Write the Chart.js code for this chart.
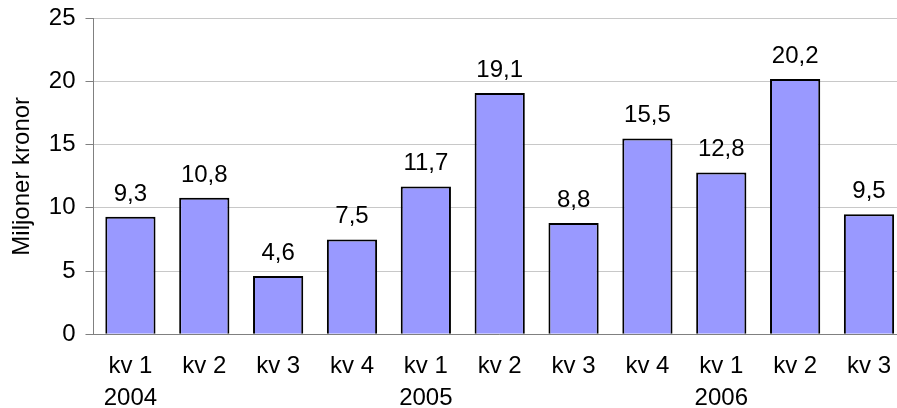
<!DOCTYPE html>
<html>
<head>
<meta charset="utf-8">
<script src="https://cdn.jsdelivr.net/npm/chart.js@4/dist/chart.umd.min.js"></script>
<style>
  html, body { margin: 0; padding: 0; background: #fff; overflow: hidden; }
  #wrap { width: 907px; height: 408px; overflow: hidden; }
  #kvartalChart { display: block; margin-top: -6px; }
</style>
</head>
<body>
<div id="wrap"><canvas id="kvartalChart" width="907" height="414"></canvas></div>
<script>
// Data per kvartal
const kvartal = ['kv 1', 'kv 2', 'kv 3', 'kv 4', 'kv 1', 'kv 2', 'kv 3', 'kv 4', 'kv 1', 'kv 2', 'kv 3'];
const ar = ['2004', '', '', '', '2005', '', '', '', '2006', '', ''];
const belopp = [9.3, 10.8, 4.6, 7.5, 11.7, 19.1, 8.8, 15.5, 12.8, 20.2, 9.5];
const yTicks = [0, 5, 10, 15, 20, 25];

const fontFamily = '"Liberation Sans", Arial, sans-serif';
const fontSize = 24;

// Etiketter ovanför staplarna
const etikettPlugin = {
  id: 'etiketter',
  afterDatasetsDraw(chart) {
    const ctx = chart.ctx;
    const meta = chart.getDatasetMeta(0);
    ctx.save();
    ctx.font = fontSize + 'px ' + fontFamily;
    ctx.fillStyle = '#000';
    ctx.textAlign = 'center';
    ctx.textBaseline = 'alphabetic';
    meta.data.forEach((bar, i) => {
      const text = belopp[i].toFixed(1).replace('.', ',');
      ctx.fillText(text, bar.x, bar.y - 16);
    });
    ctx.restore();
  }
};

const ctx = document.getElementById('kvartalChart').getContext('2d');
new Chart(ctx, {
  type: 'bar',
  data: {
    labels: kvartal.map((k, i) => [k, ar[i]]),
    datasets: [{
      data: belopp,
      backgroundColor: '#9999FF',
      borderColor: '#000000',
      borderWidth: 2,
      categoryPercentage: 1,
      barPercentage: 0.68
    }]
  },
  options: {
    responsive: false,
    animation: false,
    layout: { padding: { top: 0, left: 0, right: 0, bottom: -22 } },
    plugins: {
      legend: { display: false },
      tooltip: { enabled: false }
    },
    scales: {
      x: {
        grid: { display: false, drawTicks: false },
        border: { display: true, color: '#808080', width: 1 },
        ticks: {
          color: '#000',
          font: { family: fontFamily, size: fontSize, lineHeight: 1.33 },
          padding: 16,
          maxRotation: 0,
          autoSkip: false
        }
      },
      y: {
        min: 0,
        max: 25,
        afterBuildTicks(axis) {
          axis.ticks = yTicks.map(v => ({ value: v }));
        },
        grid: { color: '#c8c8c8', tickColor: '#808080', tickLength: 8 },
        border: { display: true, color: '#808080', width: 1 },
        ticks: {
          color: '#000',
          font: { family: fontFamily, size: fontSize },
          padding: 10
        },
        title: {
          display: true,
          text: 'Miljoner kronor',
          color: '#000',
          font: { family: fontFamily, size: fontSize },
          padding: { top: 8, bottom: 2 }
        }
      }
    }
  },
  plugins: [etikettPlugin]
});
</script>
</body>
</html>
